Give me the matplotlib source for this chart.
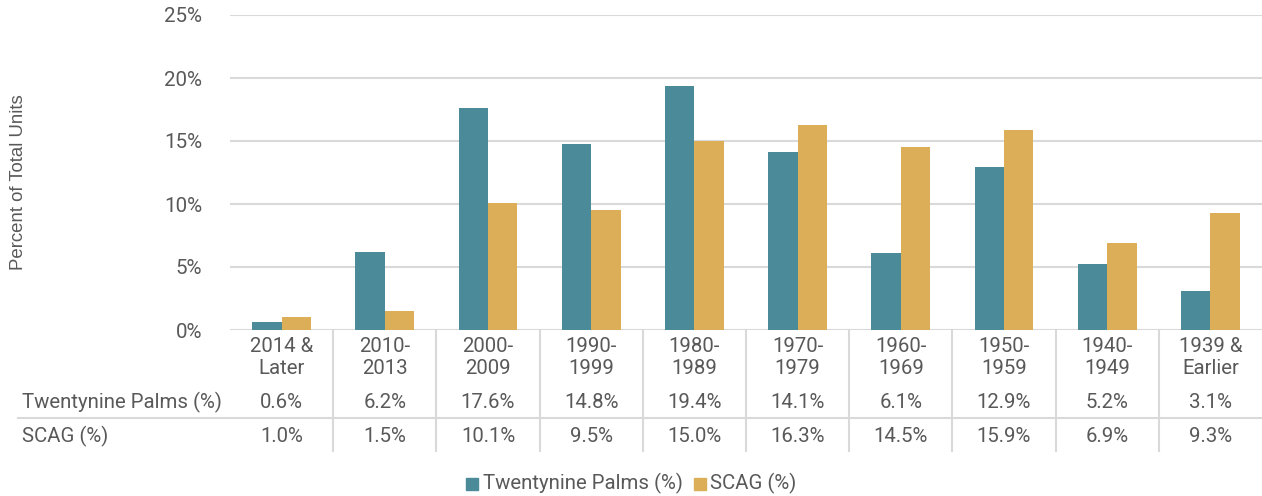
import numpy as np
import matplotlib.pyplot as plt
from matplotlib.lines import Line2D
from matplotlib.patches import Rectangle
from matplotlib.transforms import blended_transform_factory

categories = ["2014 &\nLater", "2010-\n2013", "2000-\n2009", "1990-\n1999", "1980-\n1989",
              "1970-\n1979", "1960-\n1969", "1950-\n1959", "1940-\n1949", "1939 &\nEarlier"]
series_names = ["Twentynine Palms (%)", "SCAG (%)"]
twentynine = [0.6, 6.2, 17.6, 14.8, 19.4, 14.1, 6.1, 12.9, 5.2, 3.1]
scag = [1.0, 1.5, 10.1, 9.5, 15.0, 16.3, 14.5, 15.9, 6.9, 9.3]
yticks = [0, 5, 10, 15, 20, 25]

TEAL = "#4A8A99"
GOLD = "#DBAE57"
TXT = "#595959"
GRID = "#D9D9D9"

plt.rcParams['font.family'] = ['Roboto', 'DejaVu Sans']

W, H = 1262, 496
fig = plt.figure(figsize=(W / 100, H / 100), dpi=100)

def fy(py):
    return 1 - py / H

ax = fig.add_axes([230 / W, fy(330), 1 - 230 / W, (330 - 15) / H])
x = np.arange(len(categories))
bw = 0.285
ax.bar(x - bw / 2, twentynine, bw, color=TEAL, zorder=3)
ax.bar(x + bw / 2, scag, bw, color=GOLD, zorder=3)

ax.set_xlim(-0.5, len(categories) - 0.5)
ax.set_ylim(0, 25)
ax.set_yticks(yticks)
ax.set_yticklabels([f"{v}%" for v in yticks])
ax.tick_params(axis='y', length=0, pad=20, labelsize=14.8, labelcolor=TXT)
ax.set_xticks([])
for s in ax.spines.values():
    s.set_visible(False)
ax.grid(axis='y', color=GRID, lw=1.5, zorder=0)

fig.text(19 / W, fy(182), "Percent of Total Units", rotation=90, ha='center', va='center',
         color=TXT, fontsize=13.4, family=['Liberation Sans', 'DejaVu Sans'])

# table below the axes
tr = blended_transform_factory(ax.transData, fig.transFigure)
fs = 14.7
for i, cat in enumerate(categories):
    ax.text(i, fy(358), cat, transform=tr, ha='center', va='center', fontsize=fs,
            color=TXT, linespacing=1.2, clip_on=False)
    ax.text(i, fy(402), f"{twentynine[i]:.1f}%", transform=tr, ha='center', va='center',
            fontsize=fs, color=TXT, clip_on=False)
    ax.text(i, fy(436), f"{scag[i]:.1f}%", transform=tr, ha='center', va='center',
            fontsize=fs, color=TXT, clip_on=False)

fig.text(22 / W, fy(402), series_names[0], ha='left', va='center', fontsize=fs, color=TXT)
fig.text(22 / W, fy(436), series_names[1], ha='left', va='center', fontsize=fs, color=TXT)

for i in range(len(categories) - 1):
    ax.add_line(Line2D([i + 0.5, i + 0.5], [fy(330), fy(451)], transform=tr,
                       color=GRID, lw=1.5, clip_on=False))
fig.add_artist(Line2D([18 / W, 1], [fy(418), fy(418)], color=GRID, lw=1.5))

# legend
fig.add_artist(Rectangle((466 / W, fy(490)), 12 / W, 12 / H, color=TEAL))
fig.text(483 / W, fy(483), series_names[0], ha='left', va='center', fontsize=fs, color=TXT)
fig.add_artist(Rectangle((694 / W, fy(490)), 12 / W, 12 / H, color=GOLD))
fig.text(710 / W, fy(483), series_names[1], ha='left', va='center', fontsize=fs, color=TXT)

fig.savefig("out.png", dpi=100)
